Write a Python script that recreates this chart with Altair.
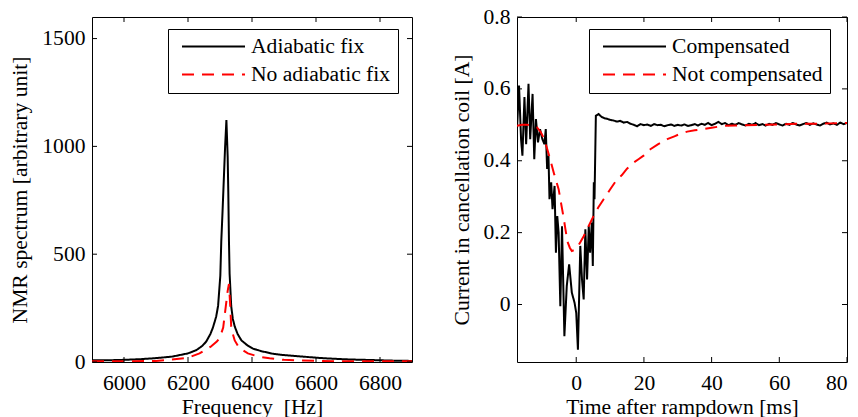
import altair as alt
import pandas as pd

# ---------------- Left panel data (NMR spectrum) ----------------
fix_freq = [5900, 5950, 6000, 6050, 6100, 6150, 6174, 6200, 6226, 6245, 6257, 6270,
            6278, 6288, 6294, 6301, 6304, 6308, 6312, 6316, 6320, 6324, 6326, 6328,
            6330, 6335, 6340, 6346, 6355, 6367, 6385, 6403, 6430, 6466, 6500, 6559,
            6600, 6643, 6700, 6750, 6800, 6850, 6900]
fix_val = [8, 8, 10, 13, 18, 25, 32, 40, 55, 75, 95, 130,
           160, 210, 260, 400, 560, 700, 850, 1000, 1122, 950, 780, 560,
           410, 260, 200, 165, 130, 100, 78, 62, 50, 38, 32, 25,
           20, 16, 12, 10, 8, 6, 5]

nofix_freq = [5900, 6000, 6100, 6143, 6200, 6236, 6270, 6290, 6299, 6310, 6318,
              6324, 6328, 6332, 6335, 6340, 6346, 6360, 6387, 6420, 6455, 6500,
              6549, 6600, 6700, 6800, 6900]
nofix_val = [3, 3, 5, 10, 20, 40, 70, 95, 110, 160, 257,
             330, 362, 260, 164, 130, 100, 65, 40, 25, 17, 10,
             7, 5, 3, 3, 3]

left_series = ["Adiabatic fix", "No adiabatic fix"]
left_xticks = [6000, 6200, 6400, 6600, 6800]
left_yticks = [0, 500, 1000, 1500]

# ---------------- Right panel data (coil current) ----------------
comp_t = [-17.5, -16.9, -16.3, -15.9, -15.3, -14.8, -14.1, -13.6, -12.9, -12.4, -11.9,
          -11.3, -10.7, -10.0, -9.4, -9.0, -8.6, -8.2, -7.9, -7.4, -7.0, -6.4, -6.0,
          -5.6, -5.2, -4.7, -4.2, -3.5, -2.8, -2.1, -1.3, -0.5, 0.0, 0.5, 1.2, 1.7,
          2.2, 2.7, 3.2, 3.7, 4.1, 4.6, 4.9, 5.2, 5.4, 5.8, 6.6, 7.5, 8.4,
          9, 10, 11, 12, 13, 14, 15, 16, 17, 18, 19, 20, 21, 22, 23, 24, 25, 26,
          27, 28, 29, 30, 31, 32, 33, 34, 35, 36, 37, 38, 39, 40, 41, 42, 43, 44,
          45, 46, 47, 48, 49, 50, 51, 52, 53, 54, 55, 56, 57, 58, 59, 60, 61, 62,
          63, 64, 65, 66, 67, 68, 69, 70, 71, 72, 73, 74, 75, 76, 77, 78, 79, 80]
comp_val = [0.488, 0.609, 0.46, 0.414, 0.577, 0.446, 0.614, 0.46, 0.586, 0.404, 0.516,
            0.451, 0.488, 0.46, 0.446, 0.488, 0.377, 0.414, 0.293, 0.34, 0.265, 0.33, 0.144,
            0.246, 0.2, -0.005, 0.218, -0.088, 0.051, 0.112, 0.033, 0.005, -0.023, -0.126, 0.163, 0.07,
            0.014, 0.209, 0.07, 0.218, 0.144, 0.228, 0.107, 0.34, 0.293, 0.525, 0.53, 0.522, 0.518,
            0.517, 0.514, 0.512, 0.509, 0.511, 0.506, 0.508, 0.503, 0.500, 0.496, 0.502, 0.499, 0.501, 0.497,
            0.502, 0.499, 0.500, 0.496, 0.499, 0.501, 0.497, 0.500, 0.498, 0.501, 0.497, 0.499, 0.502, 0.498,
            0.503, 0.500, 0.505, 0.499, 0.503, 0.508, 0.502, 0.505, 0.499, 0.503, 0.500, 0.505, 0.501, 0.498,
            0.503, 0.500, 0.505, 0.499, 0.502, 0.498, 0.503, 0.500, 0.505, 0.501, 0.498, 0.503, 0.500, 0.505,
            0.501, 0.498, 0.502, 0.505, 0.500, 0.504, 0.501, 0.498, 0.503, 0.506, 0.501, 0.504, 0.500, 0.506,
            0.502, 0.505]

notcomp_t = [-17.5, -16, -14.6, -13, -11.6, -10.5, -9.7, -8.7, -7.7, -6.5, -5.2, -4.5,
             -3.8, -3.2, -2.6, -1.9, -1.3, -0.5, 0.2, 1.2, 2.2, 3.5, 5.1, 6.5, 8.1, 10,
             12.1, 13.5, 15, 17, 18.5, 20, 21.9, 24, 26.9, 29, 30.5, 32.8, 35, 37.7, 40,
             43.6, 47, 50, 55.5, 60, 65, 70, 75, 80]
notcomp_val = [0.497, 0.500, 0.500, 0.498, 0.493, 0.480, 0.465, 0.437, 0.404, 0.362, 0.321, 0.283,
               0.246, 0.210, 0.175, 0.158, 0.149, 0.152, 0.158, 0.173, 0.190, 0.215, 0.246, 0.270, 0.293, 0.320,
               0.349, 0.360, 0.378, 0.395, 0.405, 0.415, 0.432, 0.445, 0.460, 0.468, 0.474, 0.481, 0.485, 0.488, 0.492,
               0.497, 0.498, 0.499, 0.500, 0.501, 0.503, 0.503, 0.504, 0.505]

right_series = ["Compensated", "Not compensated"]
right_xticks = [0, 20, 40, 60, 80]
right_yticks = [0, 0.2, 0.4, 0.6, 0.8]

FONT = "Liberation Serif"
FS = 21.6
W1, W2, H = 320, 330, 345
TICK = 5


def legend_for(x, y):
    return alt.Legend(
        title=None, orient="none", legendX=x, legendY=y,
        fillColor="white", strokeColor="black", padding=7,
        symbolType="stroke", symbolSize=3969, symbolStrokeWidth=2,
        symbolOffset=6, labelOffset=5, rowPadding=5, clipHeight=21,
        labelFont=FONT, labelFontSize=FS, labelColor="black", labelLimit=500,
    )


def panel(df, xf, yf, xdom, ydom, xticks, yticks, xtitle, ytitle, series, w, legx):
    leg = legend_for(legx, 12)
    xaxis = alt.Axis(values=xticks, title=xtitle, labelPadding=10, titlePadding=3, format="~r")
    yaxis = alt.Axis(values=yticks, title=ytitle, labelPadding=7, titlePadding=10, format="~r")
    xscale = alt.Scale(domain=xdom, nice=False, zero=False)
    yscale = alt.Scale(domain=ydom, nice=False, zero=False)
    xs = alt.X(f"{xf}:Q", scale=xscale, axis=xaxis)
    ys = alt.Y(f"{yf}:Q", scale=yscale, axis=yaxis)
    lines = alt.Chart(df).mark_line(strokeWidth=2, clip=True).encode(
        x=xs, y=ys,
        color=alt.Color("series:N", scale=alt.Scale(domain=series, range=["#000000", "#ff0000"]),
                        legend=leg),
        strokeDash=alt.StrokeDash("series:N", scale=alt.Scale(domain=series, range=[[1, 0], [12, 8]]),
                                  legend=leg),
    )
    xt = pd.DataFrame({xf: xticks})
    yt = pd.DataFrame({yf: yticks})
    tb = alt.Chart(xt).mark_rule(color="black", strokeWidth=1).encode(x=xs, y=alt.value(H), y2=alt.value(H - TICK))
    tt = alt.Chart(xt).mark_rule(color="black", strokeWidth=1).encode(x=xs, y=alt.value(0), y2=alt.value(TICK))
    tl = alt.Chart(yt).mark_rule(color="black", strokeWidth=1).encode(y=ys, x=alt.value(0), x2=alt.value(TICK))
    tr = alt.Chart(yt).mark_rule(color="black", strokeWidth=1).encode(y=ys, x=alt.value(w), x2=alt.value(w - TICK))
    return alt.layer(lines, tb, tt, tl, tr).properties(width=w, height=H)


left_df = pd.concat([
    pd.DataFrame({"freq": fix_freq, "value": fix_val, "series": left_series[0]}),
    pd.DataFrame({"freq": nofix_freq, "value": nofix_val, "series": left_series[1]}),
])
right_df = pd.concat([
    pd.DataFrame({"t": comp_t, "current": comp_val, "series": right_series[0]}),
    pd.DataFrame({"t": notcomp_t, "current": notcomp_val, "series": right_series[1]}),
])

left = panel(left_df, "freq", "value", [5900, 6900], [0, 1600], left_xticks, left_yticks,
             "Frequency\u00a0 [Hz]", "NMR spectrum [arbitrary unit]", left_series, W1, 76)
right = panel(right_df, "t", "current", [-17.5, 80], [-0.16, 0.8], right_xticks, right_yticks,
              "Time after rampdown [ms]", "Current in cancellation coil [A]", right_series, W2, 72)

chart = alt.hconcat(left, right, spacing=105, bounds="flush").resolve_scale(
    x="independent", y="independent", color="independent", strokeDash="independent"
).resolve_legend(color="independent", strokeDash="independent").properties(
    padding={"left": 1, "top": -3, "right": 0, "bottom": 0}, background="white"
).configure_view(stroke="black", strokeWidth=1).configure_axis(
    labelFont=FONT, labelFontSize=FS, labelColor="black",
    titleFont=FONT, titleFontSize=FS, titleFontWeight="normal", titleColor="black",
    grid=False, ticks=False, domain=False,
)

chart.save("out.html", embed_options={"renderer": "svg", "actions": False})
